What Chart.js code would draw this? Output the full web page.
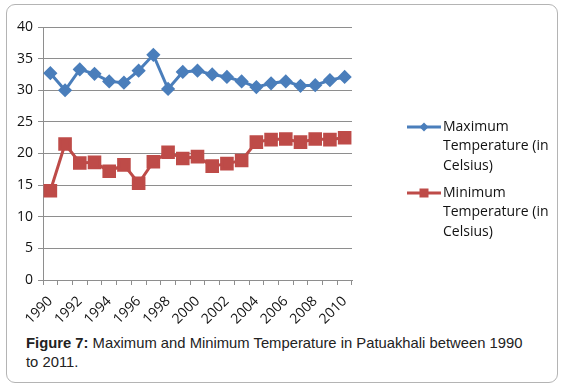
<!DOCTYPE html>
<html>
<head>
<meta charset="utf-8">
<script src="https://cdn.jsdelivr.net/npm/chart.js@4/dist/chart.umd.min.js"></script>
<style>
  html, body { margin: 0; padding: 0; background: #fff; }
  .wrap { position: relative; width: 565px; height: 389px; }
  .frame {
    position: absolute; left: 6px; top: 4px; width: 550px; height: 377px;
    border: 1px solid #b4b4b4; border-radius: 9px;
  }
  .chart { position: absolute; left: 0; top: 0; width: 565px; height: 330px; }
  .caption {
    position: absolute; left: 26px; top: 334px; width: 506px;
    font-family: "Liberation Sans", Arial, sans-serif; font-size: 14.8px;
    line-height: 19px; color: #222;
  }
</style>
</head>
<body>
<div class="wrap">
  <div class="frame"></div>
  <div class="chart"><canvas id="c"></canvas></div>
  <div class="caption"><b>Figure 7:</b> Maximum and Minimum Temperature in Patuakhali between 1990 to 2011.</div>
</div>
<script>
const years = ["1990","1991","1992","1993","1994","1995","1996","1997","1998","1999","2000",
               "2001","2002","2003","2004","2005","2006","2007","2008","2009","2010"];
const maxTemp = [32.7, 30.0, 33.3, 32.6, 31.4, 31.2, 33.1, 35.6, 30.2, 32.9, 33.1,
                 32.5, 32.1, 31.4, 30.5, 31.1, 31.4, 30.7, 30.8, 31.6, 32.1];
const minTemp = [14.1, 21.5, 18.5, 18.6, 17.2, 18.2, 15.3, 18.7, 20.2, 19.2, 19.5,
                 18.0, 18.4, 18.9, 21.8, 22.2, 22.3, 21.8, 22.3, 22.2, 22.5];
const legendLines = [
  ["Maximum", "Temperature (in", "Celsius)"],
  ["Minimum", "Temperature (in", "Celsius)"]
];

const blue = "#4a7ebb";
const red = "#be4b48";
const gridGray = "#8e8e8e";
const font = "'Open Sans', sans-serif";

// legend drawn beside the plot, text wrapped like the original
const sideLegend = {
  id: "sideLegend",
  afterDraw(chart) {
    const ctx = chart.ctx;
    const tops = [127, 193];
    ctx.save();
    chart.data.datasets.forEach((ds, i) => {
      const y = tops[i];
      ctx.strokeStyle = ds.borderColor;
      ctx.lineWidth = 3;
      ctx.beginPath();
      ctx.moveTo(407, y);
      ctx.lineTo(441, y);
      ctx.stroke();
      ctx.fillStyle = ds.backgroundColor;
      ctx.beginPath();
      if (ds.pointStyle === "rectRot") {
        ctx.moveTo(424, y - 4.5); ctx.lineTo(428.5, y);
        ctx.lineTo(424, y + 4.5); ctx.lineTo(419.5, y);
      } else {
        ctx.rect(419.5, y - 4.5, 9, 9);
      }
      ctx.closePath();
      ctx.fill();
      ctx.fillStyle = "#111";
      ctx.font = "14px " + font;
      ctx.textBaseline = "middle";
      legendLines[i].forEach((t, k) => ctx.fillText(t, 443, y + k * 19.3));
    });
    ctx.restore();
  }
};

new Chart(document.getElementById("c"), {
  type: "line",
  data: {
    labels: years,
    datasets: [
      {
        label: "Maximum Temperature (in Celsius)",
        data: maxTemp,
        borderColor: blue,
        backgroundColor: blue,
        borderWidth: 3,
        pointStyle: "rectRot",
        pointRadius: 5,
        pointHoverRadius: 5,
        tension: 0
      },
      {
        label: "Minimum Temperature (in Celsius)",
        data: minTemp,
        borderColor: red,
        backgroundColor: red,
        borderWidth: 3,
        pointStyle: "rect",
        pointRadius: 7.5,
        pointHoverRadius: 7.5,
        tension: 0
      }
    ]
  },
  options: {
    responsive: true,
    maintainAspectRatio: false,
    animation: false,
    layout: { padding: { left: 0, right: 213, top: 27, bottom: 0 } },
    plugins: {
      legend: { display: false },
      tooltip: { enabled: false }
    },
    scales: {
      x: {
        offset: true,
        grid: {
          offset: true,
          drawOnChartArea: false,
          drawTicks: true,
          tickLength: 5,
          color: gridGray
        },
        border: { display: true, color: gridGray },
        ticks: {
          autoSkip: false,
          maxRotation: 45,
          minRotation: 45,
          padding: 8,
          color: "#111",
          font: { family: font, size: 14 },
          callback: (v, i) => (i % 2 === 0 ? years[i] : "")
        },
        afterFit: s => { s.height = 50; }
      },
      y: {
        min: 0,
        max: 40,
        ticks: {
          stepSize: 5,
          padding: 5,
          color: "#111",
          font: { family: font, size: 14 }
        },
        grid: { color: gridGray, tickLength: 5 },
        border: { display: true, color: gridGray },
        afterFit: s => { s.width = 43; }
      }
    }
  },
  plugins: [sideLegend]
});
</script>
</body>
</html>
